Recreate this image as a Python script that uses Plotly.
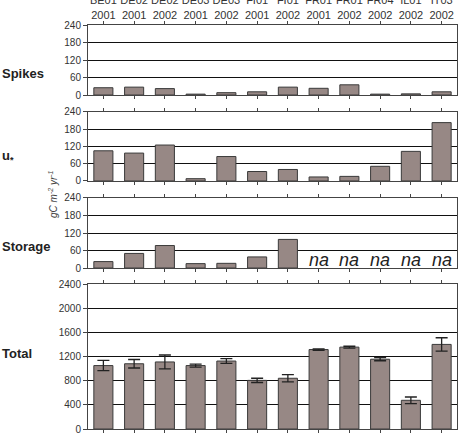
import plotly.graph_objects as go

sites = ["BE01", "DE02", "DE02", "DE03", "DE03", "FI01", "FI01", "FR01", "FR01", "FR04", "IL01", "IT03"]
years = ["2001", "2001", "2002", "2001", "2002", "2001", "2002", "2001", "2002", "2002", "2002", "2002"]
categories = [f"{s}<br>{y}" for s, y in zip(sites, years)]

spikes = [25, 27, 22, 3, 8, 11, 27, 23, 35, 3, 4, 11]
ustar = [105, 97, 125, 8, 85, 33, 40, 14, 16, 51, 103, 203]
storage = [22, 50, 77, 15, 16, 38, 98, None, None, None, None, None]
total = [1050, 1080, 1110, 1050, 1125, 805, 840, 1315, 1355, 1155, 475, 1400]
total_err = [85, 70, 115, 25, 40, 35, 60, 12, 15, 25, 55, 110]

panel_names = ["Spikes", "u<sub>*</sub>", "Storage", "Total"]
na_label = "na"

BAR = "#978885"
EDGE = "#3a3a3a"
FONT = "Liberation Sans, Arial, sans-serif"

fig = go.Figure()
series = [spikes, ustar, storage, total]
for i, vals in enumerate(series):
    kw = {}
    if i == 3:
        kw["error_y"] = dict(type="data", array=total_err, visible=True,
                             color="#222222", thickness=1.3, width=6)
    fig.add_trace(go.Bar(
        x=categories, y=vals,
        xaxis="x" if i == 0 else f"x{i+1}",
        yaxis="y" if i == 0 else f"y{i+1}",
        marker=dict(color=BAR, line=dict(color=EDGE, width=1)),
        showlegend=False, **kw))

domains = [(0.8267, 1.0), (0.6139, 0.7847), (0.3985, 0.5718), (0.0, 0.3589)]
yranges = [[0, 240], [0, 240], [0, 240], [0, 2400]]
ydticks = [60, 60, 60, 400]

layout = dict(
    width=463, height=436,
    margin=dict(l=88, r=6, t=25, b=7),
    plot_bgcolor="white", paper_bgcolor="white",
    font=dict(family=FONT, size=10, color="#333333"),
    bargap=0.38,
)
for i in range(4):
    xk = "xaxis" if i == 0 else f"xaxis{i+1}"
    yk = "yaxis" if i == 0 else f"yaxis{i+1}"
    yref = "y" if i == 0 else f"y{i+1}"
    layout[xk] = dict(
        anchor=yref, domain=[0, 1], type="category",
        categoryorder="array", categoryarray=categories,
        showticklabels=(i == 0), side="top" if i == 0 else "bottom",
        ticks="outside", ticklen=3, tickcolor="#444",
        showline=True, linecolor="#444", linewidth=1, mirror="ticks",
        showgrid=False, tickfont=dict(size=11, color="#333"),
        automargin=False,
    )
    if i == 0:
        layout[xk]["ticklabelstandoff"] = -2
    else:
        layout[xk]["matches"] = "x"
    layout[yk] = dict(
        anchor="x" if i == 0 else f"x{i+1}", domain=list(domains[i]),
        range=yranges[i], tick0=0, dtick=ydticks[i],
        ticks="outside", ticklen=4, tickcolor="#444",
        showline=True, linecolor="#444", linewidth=1, mirror=True,
        showgrid=True, gridcolor="#111111", gridwidth=1,
        zeroline=False, tickfont=dict(size=10, color="#333"),
        automargin=False,
    )

fig.update_layout(**layout)

# panel labels
label_y = [73, 157, 246, 353]
for name, yy in zip(panel_names, label_y):
    fig.add_annotation(text=f"<b>{name}</b>", xref="paper", yref="paper",
                       x=-88 / 369, y=(429 - yy) / 404, xanchor="left", yanchor="middle",
                       showarrow=False, font=dict(size=13, color="#222222", family=FONT))

# y axis title
fig.add_annotation(text="<i>gC m<sup>-2</sup> yr<sup>-1</sup></i>", xref="paper", yref="paper",
                   x=-35 / 369, y=(429 - 194) / 404, textangle=-90,
                   xanchor="center", yanchor="middle", showarrow=False,
                   font=dict(size=10, color="#444444", family=FONT))

# na labels
for c, v in zip(categories, storage):
    if v is None:
        fig.add_annotation(text=f"<i>{na_label}</i>", x=c, y=26, xref="x3", yref="y3",
                           showarrow=False, yanchor="middle",
                           font=dict(size=18, color="#222222", family=FONT))

fig.write_html("out.html")
